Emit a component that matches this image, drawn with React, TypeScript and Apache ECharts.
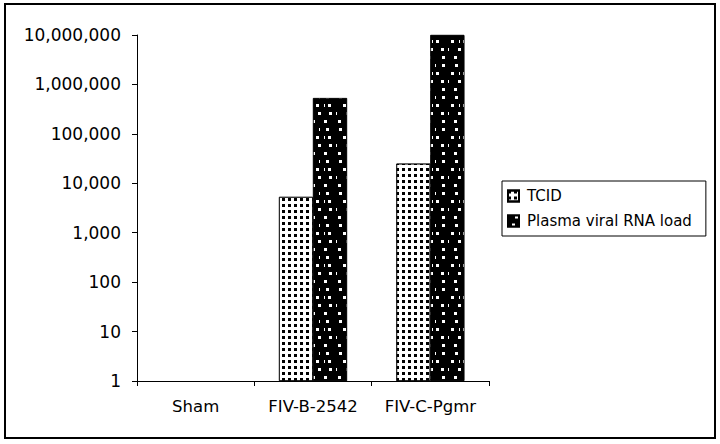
import React, { useEffect, useRef } from "react";
import * as echarts from "echarts";

const categories = ["Sham", "FIV-B-2542", "FIV-C-Pgmr"];
const tcidValues: (number | null)[] = [null, 5300, 25000];
const rnaValues: (number | null)[] = [null, 530000, 10000000];
const seriesNames = ["TCID", "Plasma viral RNA load"];

export default function App() {
  const ref = useRef<HTMLDivElement>(null);
  useEffect(() => {
    document.body.style.margin = "0";
    const chart = echarts.init(ref.current!, null, { renderer: "svg" });
    const font = "'DejaVu Sans', sans-serif";
    chart.setOption({
      animation: false,
      backgroundColor: "#fff",
      textStyle: { fontFamily: font },
      grid: { left: 137, top: 35, width: 352, height: 346 },
      legend: {
        orient: "vertical",
        left: 502,
        top: 181,
        padding: [6, 14, 6, 5],
        itemGap: 7,
        itemWidth: 11,
        itemHeight: 11,
        borderColor: "#000",
        borderWidth: 1,
        textStyle: { fontFamily: font, fontSize: 15, lineHeight: 18, color: "#000", padding: [0, 0, 0, 3] },
        data: seriesNames.map((n) => ({ name: n, icon: "rect" })),
      },
      graphic: [
        {
          type: "rect",
          shape: { x: 5, y: 4, width: 710, height: 434 },
          style: { fill: "none", stroke: "#000", lineWidth: 2 },
          silent: true,
        },
      ],
      xAxis: {
        type: "category",
        data: categories,
        axisLine: { lineStyle: { color: "#000", width: 1 } },
        axisTick: { show: true, length: 5, lineStyle: { color: "#000" } },
        axisLabel: { color: "#000", fontSize: 16.5, margin: 17, interval: 0, fontFamily: font },
      },
      yAxis: {
        type: "log",
        logBase: 10,
        min: 1,
        max: 10000000,
        axisLine: { show: true, lineStyle: { color: "#000", width: 1 } },
        axisTick: { show: true, length: 5, lineStyle: { color: "#000" } },
        splitLine: { show: false },
        axisLabel: {
          color: "#000",
          fontSize: 17,
          margin: 16,
          fontFamily: font,
          formatter: (v: number) => Math.round(v).toLocaleString("en-US"),
        },
      },
      series: [
        {
          name: seriesNames[0],
          type: "bar",
          data: tcidValues,
          barWidth: 34,
          barGap: "0%",
          itemStyle: {
            color: "#fff",
            borderColor: "#000",
            borderWidth: 0.7,
            decal: {
              symbol: "rect",
              symbolSize: 1,
              color: "#000",
              dashArrayX: [2.5, 2.5],
              dashArrayY: [2.5, 2.5],
              rotation: 0,
            },
          },
        },
        {
          name: seriesNames[1],
          type: "bar",
          data: rnaValues,
          barWidth: 34,
          barGap: "0%",
          itemStyle: {
            color: "#000",
            borderColor: "#000",
            borderWidth: 0.7,
            decal: {
              symbol: "rect",
              symbolSize: 1,
              color: "#fff",
              dashArrayX: [
                [2.5, 9, 2.5, 11],
                [0.01, 6, 2.5, 10, 2.5, 6],
                [0.01, 3, 2.5, 12, 2.5, 5],
                [0.01, 9, 2.5, 8, 2.5, 4],
              ],
              dashArrayY: [2.5, 5],
              rotation: 0,
            },
          },
        },
      ],
    });
    return () => chart.dispose();
  }, []);
  return <div ref={ref} style={{ width: 720, height: 444 }} />;
}
